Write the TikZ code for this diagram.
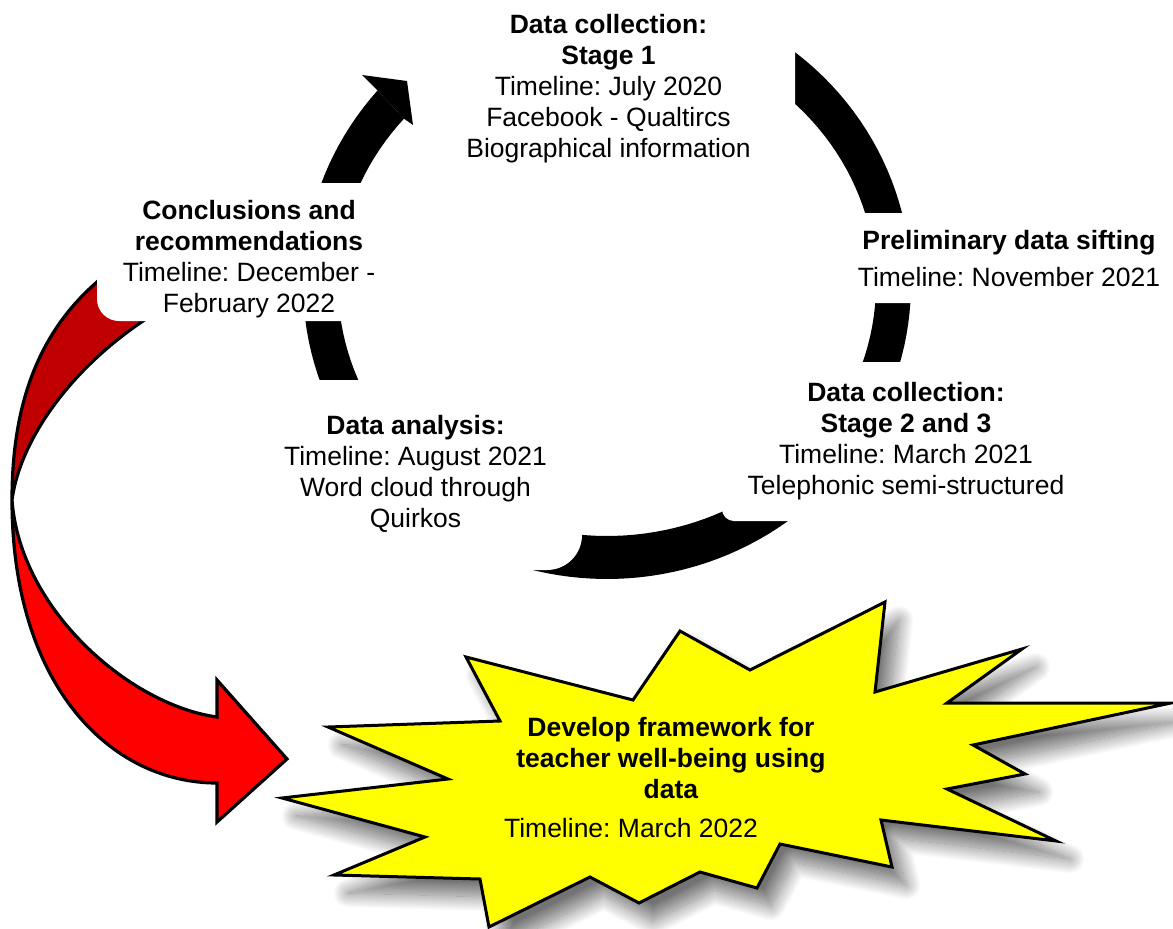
\documentclass[tikz,border=0pt]{standalone}
\usepackage{fontspec}
\setmainfont{Liberation Sans}
\frenchspacing
\usetikzlibrary{shadows.blur}
\definecolor{arrowback}{HTML}{C00000}
\definecolor{arrowfront}{HTML}{FF0000}
\definecolor{burst}{HTML}{FFFF00}
\begin{document}
\begin{tikzpicture}[x=1pt,y=-1pt,
  panel/.style={rectangle, draw=none, fill=white, inner sep=0pt},
  blocktext/.style={align=center, inner sep=0pt, anchor=north,
    font=\fontsize{26.5}{31}\selectfont},
  singletext/.style={inner sep=0pt, anchor=base,
    font=\fontsize{26.5}{31}\selectfont},
  ribbon/.style={draw=black, line width=3.2pt, line join=miter},
  burstline/.style={fill=burst, draw=black, line width=3pt, line join=miter}]
\useasboundingbox (0,0) rectangle (1173,929);

% cycle ring (elliptic band) with the arrow head on its upper left
\fill[black] plot[domain=139:485, samples=160]
    ({607+304*cos(\x)},{284-295*sin(\x)})
  -- plot[domain=485:139, samples=160]
    ({607+269*cos(\x)},{284-252*sin(\x)}) -- cycle;
\fill[black] ({607+304*cos(139)},{284-295*sin(139)}) -- (362,75) -- (407,81)
  -- (413,125) -- ({607+269*cos(139)},{284-252*sin(139)}) -- cycle;

% curved red arrow: back face, then front face with head
\filldraw[ribbon, fill=arrowback] (127,249) -- (97,282)
  .. controls (30,340) and (12,420) .. (12,500)
  .. controls (20,440) and (70,370) .. (143,321) -- (170,302) -- cycle;
\filldraw[ribbon, fill=arrowfront] (12,500)
  .. controls (12,685) and (110,783) .. (217,783) -- (217,822) -- (287,759)
  -- (217,680) -- (217,717) .. controls (130,705) and (20,610) .. (12,500) -- cycle;

% explosion burst with soft shadow
\filldraw[burstline, blur shadow={shadow xshift=14pt, shadow yshift=-18pt,
    shadow blur radius=15pt, shadow blur steps=24, shadow opacity=55}]
  (328,727) -- (448,779) -- (282,798) -- (425,837) -- (334,875) -- (480,879)
  -- (489,927) -- (590,877) -- (639,903) -- (700,872) -- (757,888) -- (780,844)
  -- (892,867) -- (881,820) -- (1056,841) -- (947,789) -- (1025,774) -- (973,745)
  -- (1171,703) -- (947,703) -- (1022,649) -- (875,692) -- (885,602) -- (750,670)
  -- (680,631) -- (633,700) -- (466,657) -- (500,721) -- cycle;

% white text panels
\node[panel, minimum width=380pt, minimum height=176pt, rounded corners=15pt] (stageonebox) at (605,88) {};
\node[panel, minimum width=318pt, minimum height=90pt, rounded corners=10pt] (siftbox) at (1009,258) {};
\node[panel, minimum width=368pt, minimum height=159pt, rounded corners=12pt] (stagetwobox) at (906,441.5) {};
\node[panel, minimum width=332pt, minimum height=190pt, rounded corners=35pt] (analysisbox) at (416,475) {};
\node[panel, minimum width=304pt, minimum height=138pt, rounded corners=22pt] (conclbox) at (249,252) {};

% texts
\node[blocktext] (stageone) at (608.5,14)
  {\textbf{Data collection:}\\\textbf{Stage 1}\\Timeline: July 2020\\Facebook - Qualtircs\\Biographical information};
\node[blocktext] (sift) at (1009,230)
  {\textbf{Preliminary data sifting}\\[6pt]Timeline: November 2021};
\node[blocktext] (stagetwo) at (906,382)
  {\textbf{Data collection:}\\\textbf{Stage 2 and 3}\\Timeline: March 2021\\Telephonic semi-structured};
\node[blocktext] (analysis) at (415.5,415)
  {\textbf{Data analysis:}\\Timeline: August 2021\\Word cloud through\\Quirkos};
\node[blocktext] (concl) at (249,200)
  {\textbf{Conclusions and}\\\textbf{recommendations}\\Timeline: December -\\February 2022};
\node[blocktext] (framework) at (671,717)
  {\textbf{Develop framework for}\\\textbf{teacher well-being using}\\\textbf{data}};
\node[singletext] (frametime) at (631,837) {Timeline: March 2022};
\end{tikzpicture}
\end{document}
